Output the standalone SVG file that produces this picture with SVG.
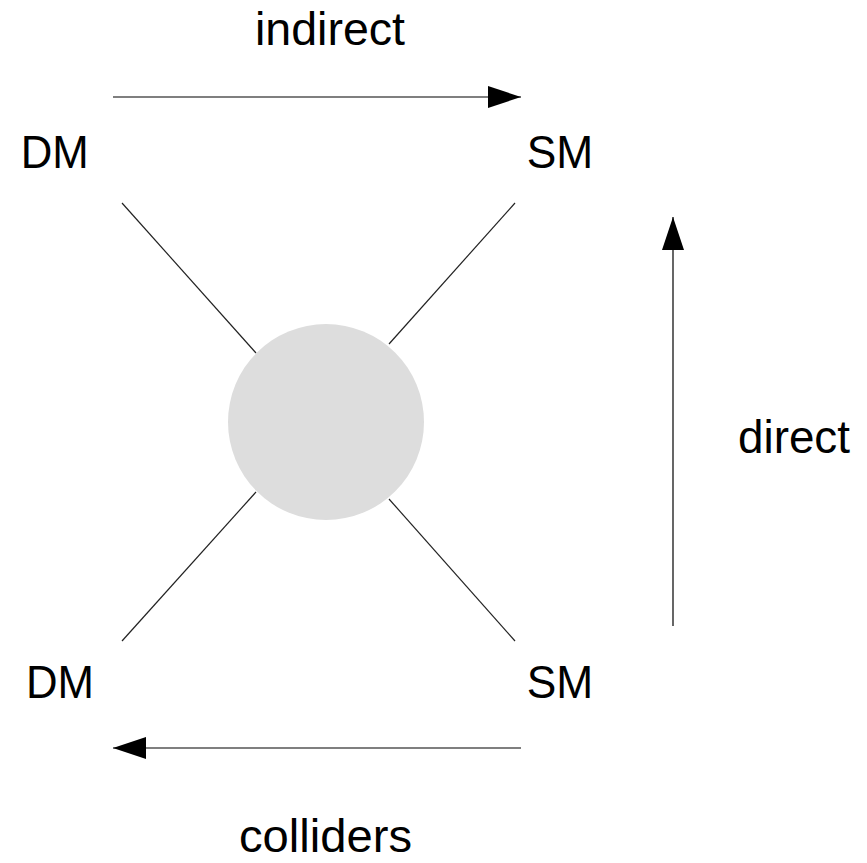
<svg xmlns="http://www.w3.org/2000/svg" width="867" height="863" viewBox="0 0 867 863">
<style>
text { font-family: "Liberation Sans", Arial, sans-serif; font-size: 47px; fill: #000; }
.edge { stroke: #000; stroke-width: 1.2; fill: none; }
.leg { stroke: #222; stroke-width: 1.2; fill: none; }
</style>
<defs>
<marker id="arr" markerUnits="userSpaceOnUse" markerWidth="34" markerHeight="24" refX="33" refY="11" orient="auto">
<path d="M0,0 L33,11 L0,22 Z" fill="#000"/>
</marker>
</defs>
<rect width="867" height="863" fill="#fff"/>
<g id="connectors">
<line class="edge" x1="113" y1="97" x2="521" y2="97" marker-end="url(#arr)"/>
<line class="edge" x1="673" y1="626" x2="673" y2="217" marker-end="url(#arr)"/>
<line class="edge" x1="521" y1="748" x2="113" y2="748" marker-end="url(#arr)"/>
<line class="leg" x1="122" y1="203" x2="256" y2="353"/>
<line class="leg" x1="515" y1="203" x2="389" y2="344"/>
<line class="leg" x1="256" y1="492" x2="122" y2="641"/>
<line class="leg" x1="389" y1="499" x2="515" y2="641"/>
</g>
<g id="blob"><circle cx="326" cy="422" r="98" fill="#dddddd"/></g>
<g id="dm-top"><text x="20.7" y="168" textLength="68" lengthAdjust="spacingAndGlyphs">DM</text></g>
<g id="sm-top"><text x="526.7" y="168" textLength="66.5" lengthAdjust="spacingAndGlyphs">SM</text></g>
<g id="dm-bottom"><text x="26" y="698" textLength="68" lengthAdjust="spacingAndGlyphs">DM</text></g>
<g id="sm-bottom"><text x="526.7" y="698" textLength="66.5" lengthAdjust="spacingAndGlyphs">SM</text></g>
<g id="label-indirect"><text x="255" y="45" textLength="150" lengthAdjust="spacingAndGlyphs">indirect</text></g>
<g id="label-direct"><text x="738" y="453" textLength="112" lengthAdjust="spacingAndGlyphs">direct</text></g>
<g id="label-colliders"><text x="239" y="852" textLength="173" lengthAdjust="spacingAndGlyphs">colliders</text></g>
</svg>
